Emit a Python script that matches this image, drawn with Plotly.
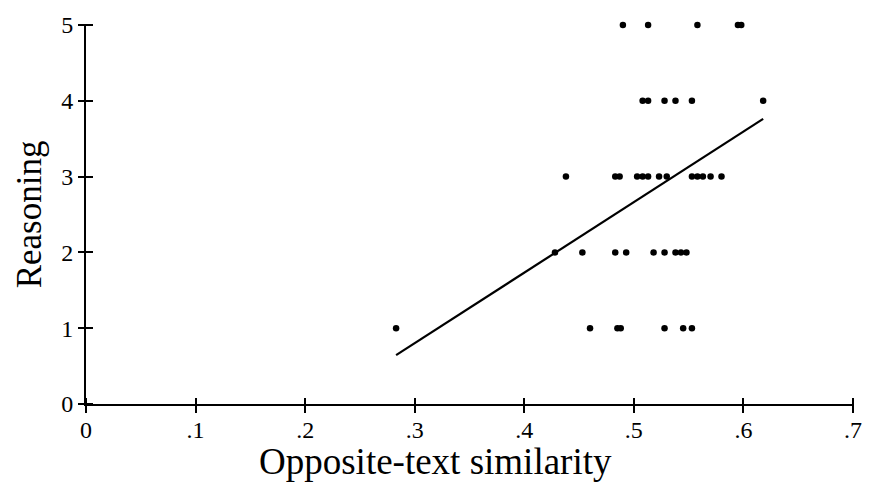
import numpy as np
import plotly.graph_objects as go

# Data
sim_r5 = [0.490, 0.513, 0.558, 0.595, 0.598]
sim_r4 = [0.508, 0.513, 0.528, 0.538, 0.553, 0.618]
sim_r3 = [0.438, 0.483, 0.487, 0.503, 0.508, 0.513, 0.523, 0.530, 0.553, 0.558, 0.563, 0.570, 0.580]
sim_r2 = [0.428, 0.453, 0.483, 0.493, 0.518, 0.528, 0.538, 0.543, 0.548]
sim_r1 = [0.283, 0.460, 0.485, 0.488, 0.528, 0.545, 0.553]
reasoning_levels = [5, 4, 3, 2, 1]

x_ticks = [0, 0.1, 0.2, 0.3, 0.4, 0.5, 0.6, 0.7]
x_labels = ["0", ".1", ".2", ".3", ".4", ".5", ".6", ".7"]
y_ticks = [0, 1, 2, 3, 4, 5]

rows = [sim_r5, sim_r4, sim_r3, sim_r2, sim_r1]
xs, ys = [], []
for lvl, r in zip(reasoning_levels, rows):
    xs += r
    ys += [lvl] * len(r)
xs = np.array(xs)
ys = np.array(ys, dtype=float)

slope, intercept = np.polyfit(xs, ys, 1)
fx = np.array([xs.min(), xs.max()])
fy = slope * fx + intercept

FONT = "Liberation Serif, DejaVu Serif, serif"
W, H = 874, 485
ML, MR, MT, MB = 86, 18, 25, 81
PW, PH = W - ML - MR, H - MT - MB
HALF_TICK = 7  # ticks cross the axis line

fig = go.Figure()
fig.add_trace(go.Scatter(x=fx, y=fy, mode="lines", line=dict(color="black", width=2.2),
                         showlegend=False, hoverinfo="skip", cliponaxis=False))
fig.add_trace(go.Scatter(x=xs, y=ys, mode="markers",
                         marker=dict(color="black", size=6.5, line=dict(width=0)),
                         showlegend=False, cliponaxis=False))
# invisible trace to activate the tick axes
fig.add_trace(go.Scatter(x=[x_ticks[1]], y=[y_ticks[1]], xaxis="x2", yaxis="y2", mode="markers",
                         marker=dict(opacity=0, size=1, color="white"), showlegend=False,
                         hoverinfo="skip"))

fig.update_layout(
    width=W, height=H,
    margin=dict(l=ML, r=MR, t=MT, b=MB),
    paper_bgcolor="white", plot_bgcolor="white",
    font=dict(family=FONT, color="black"),
    # axes carrying the lines
    xaxis=dict(range=[0, 0.7], showgrid=False, zeroline=False, showline=True,
               linecolor="black", linewidth=2, ticks="", showticklabels=False),
    yaxis=dict(range=[0, 5], showgrid=False, zeroline=False, showline=True,
               linecolor="black", linewidth=2, ticks="", showticklabels=False),
    # axes carrying crossing ticks and labels, shifted inward by half a tick
    xaxis2=dict(overlaying="x", anchor="free", position=HALF_TICK / PH, side="bottom",
                range=[0, 0.7], tickvals=x_ticks, ticktext=x_labels, ticks="outside",
                ticklen=2 * HALF_TICK + 1, tickwidth=2, tickcolor="black",
                ticklabelstandoff=-4,
                tickfont=dict(size=24, family=FONT), showgrid=False, zeroline=False,
                showline=False),
    yaxis2=dict(overlaying="y", anchor="free", position=HALF_TICK / PW, side="left",
                range=[0, 5], tickvals=y_ticks, ticks="outside",
                ticklen=2 * HALF_TICK + 1, tickwidth=2, tickcolor="black",
                tickfont=dict(size=24, family=FONT), showgrid=False, zeroline=False,
                showline=False),
    annotations=[
        dict(text="Opposite-text similarity", xref="paper", yref="paper",
             x=(W / 2 - ML) / PW, y=-(MB - 1) / PH, xanchor="center",
             yanchor="bottom", showarrow=False, font=dict(size=37, family=FONT)),
        dict(text="Reasoning", xref="paper", yref="paper", x=-(ML - 8) / PW, y=0.5,
             xanchor="left", yanchor="middle", textangle=-90, showarrow=False,
             font=dict(size=35, family=FONT)),
    ],
)

fig.write_html("out.html")
